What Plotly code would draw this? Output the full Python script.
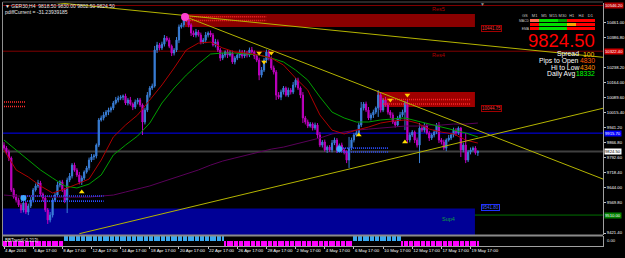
import plotly.graph_objects as go

W, H = 625, 258

# ---------------- data ----------------
bars = list(range(196))
closes = [
    9841, 9822, 9792, 9634, 9599, 9584, 9560, 9535, 9570, 9525,
    9555, 9584, 9634, 9654, 9669, 9614, 9594, 9535, 9486, 9510,
    9584, 9609, 9659, 9674, 9634, 9584, 9683, 9703, 9757, 9732,
    9708, 9674, 9693, 9723, 9743, 9782, 9797, 9802, 9856, 9980,
    9990, 10005, 10019, 10029, 10039, 10064, 10079, 10088, 10093, 10098,
    10064, 10079, 10059, 10044, 10069, 10079, 10054, 9970, 10029, 10103,
    10138, 10148, 10326, 10351, 10336, 10355, 10385, 10375, 10345, 10311,
    10326, 10375, 10440, 10450, 10474, 10479, 10450, 10410, 10400, 10415,
    10400, 10366, 10375, 10400, 10410, 10400, 10351, 10366, 10326, 10286,
    10301, 10316, 10301, 10311, 10267, 10286, 10301, 10316, 10296, 10311,
    10301, 10326, 10316, 10296, 10276, 10202, 10227, 10276, 10316, 10286,
    10237, 10217, 10103, 10093, 10118, 10138, 10103, 10128, 10118, 10153,
    10177, 10138, 10103, 9990, 9970, 9950, 9960, 9940, 9955, 9906,
    9856, 9871, 9832, 9846, 9832, 9866, 9881, 9832, 9856, 9832,
    9822, 9782, 9841, 9881, 9906, 9916, 9955, 10039, 10059, 10029,
    9990, 10005, 10019, 10039, 10103, 10029, 10079, 10054, 10019, 10005,
    9970, 9955, 9990, 10005, 10019, 10064, 9881, 9906, 9920, 9881,
    9856, 9940, 9930, 9950, 9916, 9891, 9906, 9920, 9955, 9881,
    9871, 9841, 9881, 9891, 9906, 9930, 9916, 9940, 9832, 9856,
    9782, 9822, 9832, 9841, 9818.5, 9824.5,
]
wick_up = [
    15, 10, 12, 8, 10, 15, 12, 10, 20, 8,
    12, 15, 10, 12, 15, 10, 8, 12, 10, 15,
    10, 12, 15, 8, 10, 10, 12, 15, 10, 12,
    10, 15, 12, 8, 10, 12, 15, 10, 8, 10,
    12, 15, 10, 12, 8, 10, 15, 12, 10, 8,
    12, 10, 15, 8, 12, 10, 10, 8, 12, 15,
    10, 12, 20, 15, 10, 12, 15, 10, 12, 8,
    10, 15, 12, 10, 15, 12, 10, 8, 12, 15,
    10, 12, 10, 15, 8, 12, 10, 15, 12, 10,
    12, 8, 10, 15, 12, 10, 8, 12, 10, 15,
    10, 12, 15, 8, 10, 12, 15, 10, 12, 10,
    8, 12, 10, 15, 12, 10, 8, 12, 10, 15,
    10, 12, 8, 15, 10, 12, 10, 8, 12, 10,
    15, 10, 12, 8, 10, 15, 12, 10, 8, 12,
    10, 8, 55, 12, 10, 15, 12, 30, 10, 12,
    15, 10, 12, 8, 25, 12, 10, 15, 12, 10,
    12, 8, 10, 15, 12, 10, 15, 12, 10, 8,
    12, 25, 10, 15, 12, 10, 8, 12, 10, 15,
    10, 12, 8, 15, 10, 12, 10, 8, 5, 12,
    60, 10, 12, 8, 10, 12,
]
wick_dn = [
    10, 12, 15, 10, 8, 12, 10, 15, 12, 10,
    15, 10, 12, 8, 10, 12, 15, 10, 20, 12,
    12, 10, 8, 12, 10, 15, 64, 10, 12, 8,
    10, 12, 15, 10, 8, 12, 10, 15, 12, 10,
    8, 12, 10, 15, 12, 10, 8, 12, 10, 15,
    10, 12, 8, 15, 10, 12, 10, 64, 12, 10,
    12, 10, 8, 15, 12, 10, 12, 8, 10, 15,
    12, 10, 15, 8, 12, 10, 12, 15, 10, 12,
    8, 12, 10, 15, 12, 10, 8, 12, 10, 15,
    10, 12, 15, 8, 10, 12, 10, 15, 12, 10,
    12, 10, 8, 15, 10, 25, 12, 10, 15, 12,
    10, 12, 24, 10, 15, 12, 8, 10, 12, 10,
    12, 10, 15, 25, 12, 10, 8, 12, 10, 15,
    10, 12, 8, 15, 10, 12, 10, 15, 12, 10,
    12, 15, 39, 10, 12, 8, 15, 10, 12, 10,
    10, 12, 15, 10, 44, 12, 10, 8, 12, 15,
    10, 12, 8, 15, 10, 89, 15, 12, 10, 15,
    12, 89, 10, 12, 8, 15, 10, 12, 10, 15,
    12, 10, 15, 8, 10, 12, 15, 10, 35, 12,
    15, 10, 12, 8, 10, 12,
]
first_open = 9855
last_ohlc = (9818.50, 9830.00, 9802.50, 9824.50)

ma_bars = list(range(0, 196, 5))
ma_red = [9832, 9733, 9698, 9654, 9619, 9639, 9663, 9688, 9782, 9896,
          9955, 10005, 10079, 10153, 10237, 10326, 10360, 10365, 10336, 10316,
          10311, 10301, 10286, 10252, 10187, 10128, 10005, 9930, 9911, 9930,
          9945, 9965, 9975, 9980, 9965, 9935, 9920, 9911, 9881, 9866]
ma_green = [9881, 9832, 9782, 9733, 9693, 9654, 9644, 9663, 9708, 9807,
            9856, 9901, 9965, 10064, 10138, 10202, 10257, 10306, 10311, 10311,
            10306, 10301, 10286, 10267, 10227, 10177, 10094, 10019, 9990, 9970,
            9970, 9980, 9985, 9990, 9975, 9960, 9945, 9930, 9916, 9896]
ma_purple = [9609, 9604, 9604, 9604, 9599, 9599, 9599, 9599, 9604, 9609,
             9624, 9639, 9654, 9674, 9693, 9713, 9733, 9757, 9777, 9792,
             9807, 9822, 9836, 9846, 9861, 9876, 9891, 9911, 9920, 9930,
             9935, 9940, 9945, 9950, 9950, 9955, 9955, 9960, 9960, 9965]

# trend lines: (bar, price) anchor points
trend_a = ([0, 246.5], [10586, 10290])
trend_b = ([75, 246.5], [10489, 9688])
trend_c = ([31, 246.5], [9418, 10038])

# levels
res5_line = 10546
res4_line = 10320
blue_line = 9915
bid_price = 9824.50
sup4_line = 9510
zone_res5 = (74.5, 193.8, 10440, 10504)
zone_res2 = (153.5, 193.8, 10044, 10118)
zone_sup = (-1, 193.8, 9411.5, 9542)
zig_red = [(75, 108, 10490), (75, 108, 10472), (156, 192, 10081), (156, 192, 10059),
           (0, 9, 10069), (0, 9, 10047)]
zig_blue = [(7, 41, 9604), (7, 41, 9579), (137, 158, 9841), (137, 158, 9822)]

sig_up = ([32, 146, 165], [9624, 9906, 9871])
sig_dn = ([105, 110, 107, 159, 166], [10311, 10311, 10267, 10079, 10103])
dot_pink = ([74.5], [10489])
dot_cyan = ([8, 138], [9594, 9836])

bb_runs = [(0, 24, -1), (25, 90, 1), (91, 143, -1), (144, 163, 1), (164, 195, -1)]

# price-scale labels (those hidden under level boxes are left out)
y_ticks = [10461.0, 10386.8, 10238.2, 10164.0, 10089.6, 10015.4, 9941.2,
           9866.8, 9792.6, 9718.4, 9644.0, 9569.8, 9421.4]
x_ticks = list(range(0, 193, 12))
x_labels = ["4 Apr 2016", "6 Apr 17:00", "8 Apr 17:00", "12 Apr 17:00", "14 Apr 17:00",
            "18 Apr 17:00", "20 Apr 17:00", "22 Apr 17:00", "26 Apr 17:00", "28 Apr 17:00",
            "2 May 17:00", "4 May 17:00", "6 May 17:00", "10 May 17:00", "12 May 17:00",
            "17 May 17:00", "19 May 17:00"]

tf_cols = ["M1", "M5", "M15", "M30", "H1", "H4", "D1"]
tf_rows = ["MACD", "STR", "EMA"]
tf_state = [[1, 2, 2, 3, 0, 0, 0],
            [0, 2, 2, 2, 4, 0, 0],
            [0, 2, 2, 2, 0, 0, 0]]

stats = [("Spread", "100", "#ffc000"), ("Pips to Open", "4830", "#ff5a00"),
         ("Hi to Low", "4340", "#ff8c00"), ("Daily Avg", "18332", "#00ff00")]

# ---------------- build ----------------
opens = [first_open] + closes[:-1]
highs = [max(o, c) + w for o, c, w in zip(opens, closes, wick_up)]
lows = [min(o, c) - w for o, c, w in zip(opens, closes, wick_dn)]
opens[-1], highs[-1], lows[-1], closes[-1] = last_ohlc

def px_x(p):
    return p / W

def px_y(p):
    return 1 - p / H

FONT = "Liberation Sans, Arial, sans-serif"
fig = go.Figure()

fig.add_trace(go.Candlestick(
    x=bars, open=opens, high=highs, low=lows, close=closes,
    increasing=dict(line=dict(color="#3a7fd8", width=1), fillcolor="#3a7fd8"),
    decreasing=dict(line=dict(color="#c000c0", width=1), fillcolor="#c000c0"),
    whiskerwidth=0, xaxis="x", yaxis="y", hoverinfo="skip"))

for vals, col in [(ma_purple, "#5a005a"), (ma_green, "#00a000"), (ma_red, "#b00000")]:
    fig.add_trace(go.Scatter(x=ma_bars, y=vals, mode="lines",
                             line=dict(color=col, width=1), hoverinfo="skip"))

for x0, x1, p in zig_red:
    fig.add_trace(go.Scatter(x=[x0, x1], y=[p, p], mode="lines",
                             line=dict(color="#ff2a2a", width=1.6, dash="1px,1px"),
                             hoverinfo="skip"))
for x0, x1, p in zig_blue:
    fig.add_trace(go.Scatter(x=[x0, x1], y=[p, p], mode="lines",
                             line=dict(color="#2a4dff", width=1.6, dash="1px,1px"),
                             hoverinfo="skip"))

for tl in (trend_a, trend_b, trend_c):
    fig.add_trace(go.Scatter(x=tl[0], y=tl[1], mode="lines",
                             line=dict(color="#b4b400", width=1), hoverinfo="skip"))

fig.add_trace(go.Scatter(x=sig_up[0], y=sig_up[1], mode="markers",
                         marker=dict(symbol="triangle-up", size=5, color="#ffe000"),
                         hoverinfo="skip"))
fig.add_trace(go.Scatter(x=sig_dn[0], y=sig_dn[1], mode="markers",
                         marker=dict(symbol="triangle-down", size=5, color="#ffd000"),
                         hoverinfo="skip"))
fig.add_trace(go.Scatter(x=dot_pink[0], y=dot_pink[1], mode="markers",
                         marker=dict(size=8, color="#ff40d0"), hoverinfo="skip"))
fig.add_trace(go.Scatter(x=dot_cyan[0], y=dot_cyan[1], mode="markers",
                         marker=dict(size=6, color="#40a8ff"), hoverinfo="skip"))

bb_x, bb_y, bb_c = [], [], []
for a, b, v in bb_runs:
    for i in range(a, b + 1):
        bb_x.append(i)
        bb_y.append(v)
        bb_c.append("#3aa8f0" if v > 0 else "#ff00ff")
fig.add_trace(go.Bar(x=bb_x, y=bb_y, marker=dict(color=bb_c, line=dict(width=0)),
                     width=0.45, xaxis="x", yaxis="y2", hoverinfo="skip"))

fig.add_trace(go.Heatmap(z=tf_state, x=tf_cols, y=tf_rows, xaxis="x3", yaxis="y3",
                         zmin=-0.5, zmax=4.5, showscale=False, ygap=1, hoverinfo="skip",
                         colorscale=[[0, "#ff0000"], [0.2, "#ff0000"], [0.2, "#ff6a50"],
                                     [0.4, "#ff6a50"], [0.4, "#00dd00"], [0.6, "#00dd00"],
                                     [0.6, "#009a00"], [0.8, "#009a00"], [0.8, "#ffa000"],
                                     [1, "#ffa000"]]))

shapes = []
shapes.append(dict(type="rect", xref="x", yref="y", x0=zone_sup[0], x1=zone_sup[1],
                   y0=zone_sup[2], y1=zone_sup[3], fillcolor="#000096",
                   line=dict(width=0), layer="below"))
shapes.append(dict(type="rect", xref="x", yref="y", x0=zone_res5[0], x1=zone_res5[1],
                   y0=zone_res5[2], y1=zone_res5[3], fillcolor="#8a0000",
                   line=dict(width=0), layer="below"))
shapes.append(dict(type="rect", xref="x", yref="y", x0=zone_res2[0], x1=zone_res2[1],
                   y0=zone_res2[2], y1=zone_res2[3], fillcolor="#a00000",
                   line=dict(width=0), layer="below"))
for p, col, wdt in [(res5_line, "#800000", 1), (res4_line, "#800000", 1),
                    (blue_line, "#0000ff", 1), (bid_price, "#404040", 2),
                    (sup4_line, "#007000", 1)]:
    shapes.append(dict(type="line", xref="x domain", yref="y", x0=0, x1=1, y0=p, y1=p,
                       line=dict(color=col, width=wdt), layer="below"))
# window frame
shapes.append(dict(type="line", xref="paper", yref="paper", x0=px_x(2.5), x1=px_x(2.5),
                   y0=px_y(246), y1=px_y(2), line=dict(color="#909090", width=1)))
shapes.append(dict(type="line", xref="paper", yref="paper", x0=px_x(2.5), x1=px_x(603),
                   y0=px_y(235.5), y1=px_y(235.5), line=dict(color="#8a8a8a", width=2)))
shapes.append(dict(type="line", xref="paper", yref="paper", x0=px_x(2.5), x1=px_x(603),
                   y0=px_y(2), y1=px_y(2), line=dict(color="#505050", width=1)))

ann = []
def txt(x, y, s, size=5, color="#e8e8e8", xanchor="left", xref="paper", yref="paper", **kw):
    ann.append(dict(x=x, y=y, text=s, xref=xref, yref=yref, xanchor=xanchor,
                    yanchor="middle", showarrow=False, borderpad=0,
                    font=dict(size=size, color=color, family=FONT), **kw))

txt(px_x(4), px_y(5.5), "▼ GER30,H4  9818.50 9830.00 9802.50 9824.50", size=5)
txt(px_x(4), px_y(12.5), "pdiffCurrent = -31.23939185", size=5)
txt(px_x(4), px_y(240.5), "BBTrend(-0.213)", size=4.5)
txt(px_x(482), px_y(4), "▼", size=5, color="#909090", xanchor="center")

txt(179, 10528, "Res5", size=5.5, color="#b00000", xanchor="center", xref="x", yref="y")
txt(179, 10300, "Res4", size=5.5, color="#b00000", xanchor="center", xref="x", yref="y")
txt(183, 9490, "Sup4", size=5.5, color="#10a040", xanchor="center", xref="x", yref="y")

for yv, s, col, bc in [(10431, "10441.05", "#ff3030", "#a00000"),
                       (10035, "10044.75", "#ff3030", "#a00000"),
                       (9547, "9541.80", "#4060ff", "#2030ff")]:
    ann.append(dict(x=px_x(481), y=yv, xref="paper", yref="y", text=s, showarrow=False,
                    xanchor="left", yanchor="middle", bordercolor=bc, borderwidth=1,
                    borderpad=0, bgcolor="#000000",
                    font=dict(size=4.5, color=col, family=FONT)))

for yv, s, bg, fc in [(res5_line, "10546.20", "#b00000", "#ffffff"),
                      (res4_line, "10322.40", "#d00000", "#ffffff"),
                      (blue_line, "9915.70", "#0000ff", "#ffffff"),
                      (bid_price, "9824.50", "#ffffff", "#000000"),
                      (sup4_line, "9510.00", "#008000", "#ffffff")]:
    ann.append(dict(x=px_x(604), y=yv, xref="paper", yref="y", text=s, showarrow=False,
                    xanchor="left", yanchor="middle", bgcolor=bg, borderpad=0,
                    font=dict(size=4.2, color=fc, family=FONT)))
txt(px_x(606), px_y(240.5), "0.00", size=4.2)

txt(px_x(521), px_y(15.5), "GS", size=4, color="#c0c0c0")
txt(px_x(596), px_y(40), "9824.50", size=18.5, color="#ff0000", xanchor="right")
ys = [54.2, 60.7, 67.2, 73.7]
lab_end = [579.5, 579.5, 579.5, 576]
for (lab, val, col), yy, le in zip(stats, ys, lab_end):
    txt(px_x(le), px_y(yy), lab, size=6.8, color="#ffffff", xanchor="right")
    txt(px_x(596), px_y(yy), val, size=6.8, color=col, xanchor="right")

fig.update_layout(
    width=W, height=H, margin=dict(l=0, r=0, t=0, b=0),
    paper_bgcolor="#000000", plot_bgcolor="#000000", showlegend=False,
    hovermode=False, shapes=shapes, annotations=ann, bargap=0,
    xaxis=dict(domain=[px_x(3), px_x(603)], range=[-0.41, 246.5], anchor="y2",
               rangeslider=dict(visible=False), showgrid=False, zeroline=False,
               tickmode="array", tickvals=x_ticks, ticktext=x_labels, tickangle=0,
               ticks="outside", ticklen=2, tickcolor="#c0c0c0",
               ticklabelposition="outside right",
               tickfont=dict(size=4.4, color="#ffffff", family=FONT),
               showline=True, linecolor="#a0a0a0", linewidth=1, automargin=False),
    yaxis=dict(domain=[px_y(235), px_y(3)], range=[9411.5, 10558.3], side="right",
               anchor="x", showgrid=False, zeroline=False, tickmode="array",
               tickvals=y_ticks, ticktext=[f"{v:.2f}" for v in y_ticks],
               ticks="outside", ticklen=2, tickcolor="#c0c0c0",
               tickfont=dict(size=4.2, color="#ffffff", family=FONT),
               showline=True, linecolor="#a0a0a0", linewidth=1, automargin=False),
    yaxis2=dict(domain=[px_y(246), px_y(236)], range=[-1, 1], side="right", anchor="x",
                showgrid=False, zeroline=False, showticklabels=False, ticks="",
                showline=True, linecolor="#a0a0a0", linewidth=1, automargin=False),
    xaxis3=dict(domain=[px_x(530), px_x(595)], anchor="y3", side="top", tickangle=0,
                showgrid=False, zeroline=False, ticks="",
                tickfont=dict(size=4, color="#c8c8c8", family=FONT), automargin=False),
    yaxis3=dict(domain=[px_y(31), px_y(19)], anchor="x3", autorange="reversed",
                showgrid=False, zeroline=False, ticks="",
                tickfont=dict(size=3.4, color="#c8c8c8", family=FONT), automargin=False),
)

fig.write_html("out.html")
